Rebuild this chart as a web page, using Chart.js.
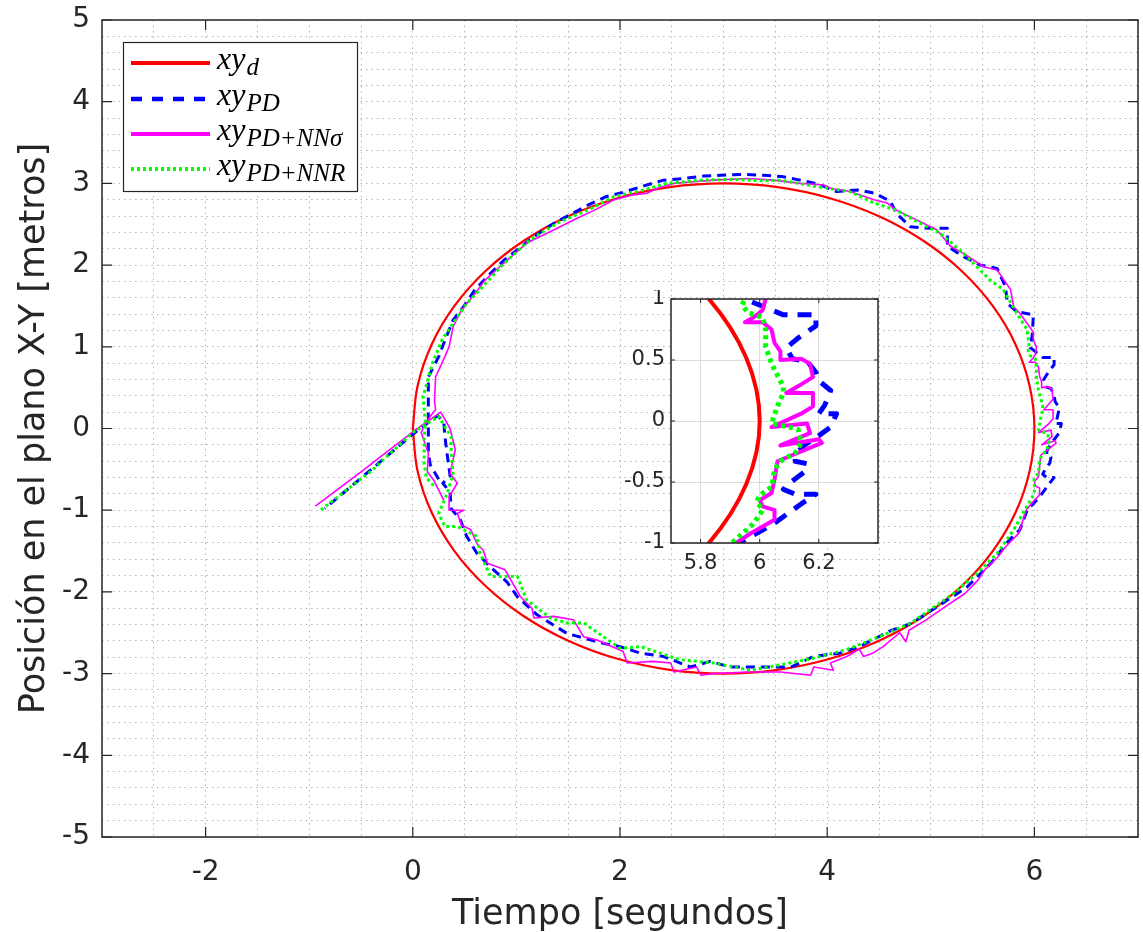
<!DOCTYPE html>
<html>
<head>
<meta charset="utf-8">
<script src="https://cdn.jsdelivr.net/npm/chart.js@4.4.1/dist/chart.umd.min.js"></script>
<style>
html,body{margin:0;padding:0;background:#fff;}
#wrap{position:relative;width:1143px;height:932px;overflow:hidden;}
#main{position:absolute;left:0;top:0;}
#inset{position:absolute;left:610px;top:290px;}
</style>
</head>
<body>
<div id="wrap">
<canvas id="main" width="1143" height="932"></canvas>
<canvas id="inset" width="280" height="300"></canvas>
</div>
<script>
// ---------- tick labels ----------
const xTickLabels = [-2, 0, 2, 4, 6];
const yTickLabels = [-5, -4, -3, -2, -1, 0, 1, 2, 3, 4, 5];
const insetXTickLabels = [5.8, 6, 6.2];
const insetYTickLabels = [-1, -0.5, 0, 0.5, 1];
const xTitle = 'Tiempo [segundos]';
const yTitle = 'Posición en el plano X-Y [metros]';
const seriesMain = ['xy', 'xy', 'xy', 'xy'];
const seriesSub = ['d', 'PD', 'PD+NNσ', 'PD+NNR'];

// ---------- desired trajectory xy_d ----------
const refX = [0, 0.046, 0.181, 0.402, 0.702, 1.072, 1.5, 1.974, 2.479, 3, 3.521, 4.026, 4.5, 4.928, 5.298, 5.598, 5.819, 5.954, 6,
  5.954, 5.819, 5.598, 5.298, 4.928, 4.5, 4.026, 3.521, 3, 2.479, 1.974, 1.5, 1.072, 0.702, 0.402, 0.181, 0.046, 0];
const refY = [0, 0.521, 1.026, 1.5, 1.928, 2.298, 2.598, 2.819, 2.954, 3, 2.954, 2.819, 2.598, 2.298, 1.928, 1.5, 1.026, 0.521, 0,
  -0.521, -1.026, -1.5, -1.928, -2.298, -2.598, -2.819, -2.954, -3, -2.954, -2.819, -2.598, -2.298, -1.928, -1.5, -1.026, -0.521, 0];

// ---------- PD ----------
const pdX = [0.25, 0.17, 0.15, 0.15,
  0.15, 0.15, 0.15, 0.25, 0.31, 0.39, 0.49, 0.60, 0.72, 0.88,
  1.17, 1.36, 1.70, 1.87, 2.03, 2.23, 2.42, 2.61, 2.81, 2.97,
  3.19, 3.39, 3.58, 3.74, 3.92, 4.09, 4.29, 4.46, 4.61, 4.67,
  4.80, 4.99, 5.16, 5.16, 5.32, 5.48, 5.64, 5.72, 5.74, 5.83,
  5.99, 5.98, 5.96, 6.08, 6.15, 6.19, 6.19, 6.13, 6.09, 6.11,
  6.16, 6.19, 6.20, 6.24, 6.22, 6.20, 6.26, 6.24, 6.20, 6.15,
  6.12, 6.12, 6.16, 6.15, 6.10, 6.08, 6.12, 6.19, 6.14, 6.10,
  6.06, 6.02, 5.96, 5.93, 5.86, 5.76, 5.58, 5.35, 5.16, 4.82,
  4.62, 4.31, 4.12, 3.87, 3.65, 3.33, 3.06, 2.87, 2.68, 2.42,
  2.20, 2.00, 1.84, 1.49, 1.20, 1.01, 0.91, 0.78, 0.62, 0.52,
  0.46,
  0.37, 0.36, 0.29, 0.36, 0.33, 0.31, 0.30, 0.24,
  0.0, -0.4, -0.85];
const pdY = [-0.62, -0.45, -0.30, -0.10,
  0.10, 0.43, 0.63, 0.88, 1.08, 1.33, 1.49, 1.70, 1.86, 2.06,
  2.35, 2.51, 2.74, 2.84, 2.89, 2.97, 3.04, 3.06, 3.09, 3.10,
  3.11, 3.10, 3.08, 3.04, 2.99, 2.90, 2.92, 2.88, 2.78, 2.63,
  2.47, 2.45, 2.45, 2.23, 2.10, 2.00, 1.96, 1.74, 1.53, 1.43,
  1.39, 1.15, 0.99, 0.87, 0.87, 0.87, 0.78, 0.68, 0.60, 0.51,
  0.49, 0.40, 0.33, 0.25, 0.13, 0.06, 0.06, -0.05, -0.12, -0.20,
  -0.28, -0.33, -0.35, -0.42, -0.51, -0.56, -0.60, -0.60, -0.68, -0.75,
  -0.82, -0.88, -0.96, -1.0, -1.24, -1.36, -1.65, -1.94, -2.10, -2.38,
  -2.47, -2.67, -2.75, -2.79, -2.92, -2.92, -2.92, -2.85, -2.92, -2.79,
  -2.75, -2.67, -2.63, -2.51, -2.28, -2.06, -1.88, -1.73, -1.53, -1.32,
  -1.12,
  -0.98, -0.78, -0.67, -0.58, -0.30, -0.10, 0.07, 0.16,
  -0.07, -0.5, -0.98];

// ---------- PD + NN sigma ----------
const nnsX = [0.30, 0.20, 0.14, 0.15, 0.08, 0.15,
  0.22, 0.21, 0.22, 0.31, 0.35, 0.39, 0.47, 0.60, 0.70, 0.84,
  1.10, 1.36, 1.58, 1.75, 1.94, 2.13, 2.26, 2.36, 2.52, 2.71,
  2.90, 3.23, 3.48, 3.74, 3.97, 4.03, 4.22, 4.45, 4.58, 4.67,
  4.90, 5.06, 5.19, 5.32, 5.51, 5.64, 5.77, 5.80, 5.86, 5.99,
  5.99, 6.02, 6.01, 5.98, 5.95, 6.01, 6.04, 6.05, 6.07, 6.07,
  6.14, 6.17, 6.18, 6.14, 6.09, 6.18, 6.18, 6.14, 6.04, 6.16,
  6.17, 6.07, 6.20, 6.21, 6.06, 6.05, 6.04, 6.00, 6.01, 6.05,
  6.05, 5.97, 5.92, 5.85, 5.72, 5.65, 5.52, 5.46, 5.33, 5.14,
  4.96, 4.79, 4.76, 4.70, 4.54, 4.44, 4.35, 4.31, 4.19, 4.03,
  4.06, 3.87, 3.84, 3.55, 3.24, 2.90, 2.78, 2.74, 2.52, 2.49,
  2.32, 2.07, 2.03, 1.78, 1.65, 1.55, 1.36, 1.17, 1.15, 1.04,
  0.89, 0.72, 0.68, 0.62, 0.56, 0.47, 0.43,
  0.49, 0.35, 0.35, 0.43, 0.36, 0.41, 0.36, 0.27,
  0.0, -0.5, -0.94];
const nnsY = [-0.88, -0.63, -0.53, -0.30, -0.05, 0.12,
  0.23, 0.33, 0.63, 0.88, 1.0, 1.25, 1.45, 1.65, 1.82, 1.98,
  2.27, 2.43, 2.57, 2.67, 2.80, 2.86, 2.88, 2.94, 3.0, 3.02,
  3.04, 3.06, 3.04, 3.0, 2.98, 2.94, 2.90, 2.80, 2.76, 2.67,
  2.53, 2.43, 2.23, 2.14, 1.98, 1.94, 1.70, 1.49, 1.41, 1.18,
  1.08, 1.0, 0.91, 0.85, 0.81, 0.81, 0.75, 0.64, 0.57, 0.50,
  0.51, 0.47, 0.36, 0.30, 0.23, 0.23, 0.12, 0.06, -0.05, -0.02,
  -0.10, -0.20, -0.15, -0.18, -0.33, -0.48, -0.59, -0.65, -0.70, -0.73,
  -0.81, -0.92, -1.0, -1.28, -1.45, -1.57, -1.73, -1.85, -2.02, -2.18,
  -2.34, -2.47, -2.61, -2.50, -2.67, -2.75, -2.79, -2.70, -2.79, -2.87,
  -2.96, -2.92, -3.02, -2.98, -2.98, -3.0, -3.02, -2.92, -2.98, -2.87,
  -2.85, -2.87, -2.73, -2.59, -2.55, -2.34, -2.30, -2.32, -2.20, -2.06,
  -1.73, -1.65, -1.49, -1.41, -1.24, -1.18, -1.04,
  -1.0, -1.0, -0.83, -0.67, -0.55, -0.26, 0.0, 0.2,
  -0.04, -0.53, -0.95];

// ---------- PD + NN R ----------
const nnrX = [0.20, 0.13, 0.11, 0.11, 0.12,
  0.10, 0.19, 0.28, 0.41, 0.52, 0.65, 0.88, 1.13, 1.42, 1.72,
  1.94, 2.20, 2.45, 2.78, 3.10, 3.39, 3.55, 3.90, 4.22, 4.45,
  4.67, 4.93, 5.09, 5.32, 5.57, 5.70, 5.83, 5.93, 5.95, 5.94,
  5.96, 6.01, 6.02, 6.02, 6.04, 6.08, 6.08, 6.06, 6.04, 6.10,
  6.13, 6.14, 6.12, 6.07, 6.05, 6.04, 6.00, 5.99, 6.01, 5.98,
  5.91, 5.80, 5.64, 5.45, 5.22, 4.81, 4.50, 4.18, 3.87, 3.56,
  3.26, 2.90, 2.58, 2.20, 2.00, 1.65, 1.49, 1.33, 1.10, 1.01,
  0.75, 0.65, 0.62, 0.43, 0.31, 0.25,
  0.33, 0.39, 0.37, 0.37, 0.31, 0.25,
  0.0, -0.4, -0.89];
const nnrY = [-0.70, -0.60, -0.43, -0.13, 0.10,
  0.39, 0.80, 1.08, 1.33, 1.53, 1.70, 2.02, 2.31, 2.53, 2.69,
  2.84, 2.91, 3.00, 3.04, 3.05, 3.03, 3.04, 2.96, 2.90, 2.76,
  2.67, 2.49, 2.39, 2.14, 1.82, 1.70, 1.41, 1.21, 1.0, 0.95,
  0.89, 0.85, 0.75, 0.61, 0.47, 0.28, 0.23, 0.12, -0.02, -0.05,
  -0.07, -0.18, -0.26, -0.33, -0.40, -0.54, -0.61, -0.66, -0.73, -0.84,
  -0.99, -1.24, -1.53, -1.77, -2.02, -2.38, -2.55, -2.71, -2.81, -2.89,
  -2.96, -2.87, -2.83, -2.67, -2.69, -2.38, -2.38, -2.32, -2.10, -1.81,
  -1.81, -1.53, -1.32, -1.20, -1.20, -1.04,
  -0.80, -0.55, -0.30, -0.10, 0.02, 0.15,
  -0.05, -0.52, -1.0];

// ---------- helpers ----------
function pts(xs, ys) { return xs.map((v, i) => ({ x: v, y: ys[i] })); }
function near(list, v) { return list.some(t => Math.abs(t - v) < 1e-6); }
function gridTicks(min, max, step) {
  const n = Math.round((max - min) / step);
  const out = [];
  for (let i = 0; i <= n; i++) out.push({ value: Math.round((min + i * step) * 1000) / 1000 });
  return out;
}
function noPadX(s, h) { s.height = h; s.paddingLeft = 0; s.paddingRight = 0; s.paddingTop = 0; s.paddingBottom = 0; }
function noPadY(s, w) { s.width = w; s.paddingLeft = 0; s.paddingRight = 0; s.paddingTop = 0; s.paddingBottom = 0; }
const FONT = 'DejaVu Sans';
const AX = '#262626';

const styleMain = [
  { color: '#ff0000', width: 2.2, dash: [] },
  { color: '#0000ff', width: 3, dash: [9, 6] },
  { color: '#ff00ff', width: 1.6, dash: [] },
  { color: '#00ff00', width: 3, dash: [3, 3] }
];
const styleInset = [
  { color: '#ff0000', width: 4, dash: [] },
  { color: '#0000ff', width: 5, dash: [14, 10] },
  { color: '#ff00ff', width: 4, dash: [] },
  { color: '#00ff00', width: 5, dash: [4, 4] }
];
const styleLegend = [
  { color: '#ff0000', width: 4, dash: [] },
  { color: '#0000ff', width: 4.5, dash: [11, 10] },
  { color: '#ff00ff', width: 4, dash: [] },
  { color: '#00ff00', width: 4, dash: [3, 3] }
];

function makeDatasets(styles) {
  const series = [[refX, refY], [pdX, pdY], [nnsX, nnsY], [nnrX, nnrY]];
  const order = [4, 3, 2, 1];
  return series.map((s, i) => ({
    label: seriesMain[i] + '_' + seriesSub[i],
    data: pts(s[0], s[1]),
    showLine: true,
    borderColor: styles[i].color,
    backgroundColor: styles[i].color,
    borderWidth: styles[i].width,
    borderDash: styles[i].dash,
    pointRadius: 0,
    pointHoverRadius: 0,
    tension: i === 0 ? 0.35 : 0,
    order: order[i],
    borderJoinStyle: 'round',
    borderCapStyle: 'butt'
  }));
}

// ---------- main decorations (box, inward ticks, legend) ----------
const mainDecor = {
  id: 'mainDecor',
  afterDraw(chart) {
    const { ctx, chartArea: a, scales: { x, y } } = chart;
    ctx.save();
    ctx.setLineDash([]);
    ctx.strokeStyle = AX;
    ctx.lineWidth = 1.5;
    ctx.strokeRect(a.left, a.top, a.right - a.left, a.bottom - a.top);
    ctx.lineWidth = 1.2;
    ctx.beginPath();
    const tl = 10;
    xTickLabels.forEach(v => {
      const px = x.getPixelForValue(v);
      ctx.moveTo(px, a.bottom); ctx.lineTo(px, a.bottom - tl);
      ctx.moveTo(px, a.top); ctx.lineTo(px, a.top + tl);
    });
    yTickLabels.forEach(v => {
      const py = y.getPixelForValue(v);
      ctx.moveTo(a.left, py); ctx.lineTo(a.left + tl, py);
      ctx.moveTo(a.right, py); ctx.lineTo(a.right - tl, py);
    });
    ctx.stroke();

    // legend
    const L = { x: 123, y: 42, w: 234, h: 149 };
    ctx.fillStyle = '#ffffff';
    ctx.fillRect(L.x, L.y, L.w, L.h);
    ctx.strokeStyle = AX;
    ctx.lineWidth = 1.2;
    ctx.strokeRect(L.x + 0.5, L.y + 0.5, L.w, L.h);
    const rowsY = [63, 99, 134, 169];
    rowsY.forEach((ry, i) => {
      const s = styleLegend[i];
      ctx.save();
      ctx.strokeStyle = s.color;
      ctx.lineWidth = s.width;
      ctx.setLineDash(s.dash);
      ctx.beginPath();
      ctx.moveTo(131, ry); ctx.lineTo(210, ry);
      ctx.stroke();
      ctx.restore();
      ctx.fillStyle = '#000';
      ctx.textBaseline = 'alphabetic';
      ctx.textAlign = 'left';
      ctx.font = 'italic 32px "Liberation Serif"';
      const base = ry + 6;
      ctx.fillText(seriesMain[i], 217, base);
      const w = ctx.measureText(seriesMain[i]).width;
      ctx.font = 'italic 25px "Liberation Serif"';
      ctx.fillText(seriesSub[i], 217 + w + 1, base + 6);
    });
    ctx.restore();
  }
};

const insetDecor = {
  id: 'insetDecor',
  beforeDraw(chart) {
    const { ctx, chartArea: a } = chart;
    ctx.save();
    ctx.fillStyle = '#ffffff';
    ctx.fillRect(a.left, a.top, a.right - a.left, a.bottom - a.top);
    ctx.restore();
  },
  afterDraw(chart) {
    const { ctx, chartArea: a, scales: { x, y } } = chart;
    ctx.save();
    ctx.setLineDash([]);
    ctx.strokeStyle = AX;
    ctx.lineWidth = 1.5;
    ctx.strokeRect(a.left, a.top, a.right - a.left, a.bottom - a.top);
    ctx.lineWidth = 1;
    ctx.beginPath();
    const tl = 4;
    insetXTickLabels.forEach(v => {
      const px = x.getPixelForValue(v);
      ctx.moveTo(px, a.bottom); ctx.lineTo(px, a.bottom - tl);
      ctx.moveTo(px, a.top); ctx.lineTo(px, a.top + tl);
    });
    insetYTickLabels.forEach(v => {
      const py = y.getPixelForValue(v);
      ctx.moveTo(a.left, py); ctx.lineTo(a.left + tl, py);
      ctx.moveTo(a.right, py); ctx.lineTo(a.right - tl, py);
    });
    ctx.stroke();
    ctx.restore();
  }
};

// ---------- main chart ----------
new Chart(document.getElementById('main'), {
  type: 'scatter',
  data: { datasets: makeDatasets(styleMain) },
  options: {
    responsive: false,
    devicePixelRatio: 1,
    animation: false,
    events: [],
    layout: { padding: { top: 20, right: 5, left: 0, bottom: 0 } },
    plugins: { legend: { display: false }, tooltip: { enabled: false } },
    scales: {
      x: {
        type: 'linear', min: -3, max: 7,
        afterBuildTicks: s => { s.ticks = gridTicks(-3, 7, 0.5); },
        afterFit: s => noPadX(s, 95),
        grid: { color: '#b4b4b4', lineWidth: 1, drawTicks: false },
        border: { display: false, dash: [1.5, 4] },
        ticks: {
          autoSkip: false, maxRotation: 0, padding: 19, color: AX,
          font: { family: FONT, size: 28 },
          callback: v => near(xTickLabels, v) ? String(Math.round(v)) : ''
        },
        title: { display: true, text: xTitle, color: AX, font: { family: FONT, size: 35 }, padding: { top: 0, bottom: -4 } }
      },
      y: {
        type: 'linear', min: -5, max: 5,
        afterBuildTicks: s => { s.ticks = gridTicks(-5, 5, 0.2); },
        afterFit: s => noPadY(s, 102),
        grid: { color: '#b4b4b4', lineWidth: 1, drawTicks: false },
        border: { display: false, dash: [1.5, 4] },
        ticks: {
          autoSkip: false, padding: 12, color: AX,
          font: { family: FONT, size: 28 },
          callback: v => near(yTickLabels, v) ? String(Math.round(v)) : ''
        },
        title: { display: true, text: yTitle, color: AX, font: { family: FONT, size: 35 }, padding: { top: 14, bottom: 0 } }
      }
    }
  },
  plugins: [mainDecor]
});

// ---------- inset chart ----------
new Chart(document.getElementById('inset'), {
  type: 'scatter',
  data: { datasets: makeDatasets(styleInset) },
  options: {
    responsive: false,
    devicePixelRatio: 1,
    animation: false,
    events: [],
    layout: { padding: { top: 9, right: 12, left: 0, bottom: 0 } },
    plugins: { legend: { display: false }, tooltip: { enabled: false } },
    scales: {
      x: {
        type: 'linear', min: 5.7, max: 6.4,
        afterBuildTicks: s => { s.ticks = insetXTickLabels.map(v => ({ value: v })); },
        afterFit: s => noPadX(s, 47),
        grid: { color: '#dcdcdc', lineWidth: 1, drawTicks: false },
        border: { display: false },
        ticks: { autoSkip: false, maxRotation: 0, padding: 8, color: AX, font: { family: FONT, size: 21 }, callback: v => String(v) }
      },
      y: {
        type: 'linear', min: -1, max: 1,
        afterBuildTicks: s => { s.ticks = insetYTickLabels.map(v => ({ value: v })); },
        afterFit: s => noPadY(s, 61),
        grid: { color: '#dcdcdc', lineWidth: 1, drawTicks: false },
        border: { display: false },
        ticks: { autoSkip: false, padding: 6, color: AX, font: { family: FONT, size: 21 }, callback: v => String(v) }
      }
    }
  },
  plugins: [insetDecor]
});
</script>
</body>
</html>
